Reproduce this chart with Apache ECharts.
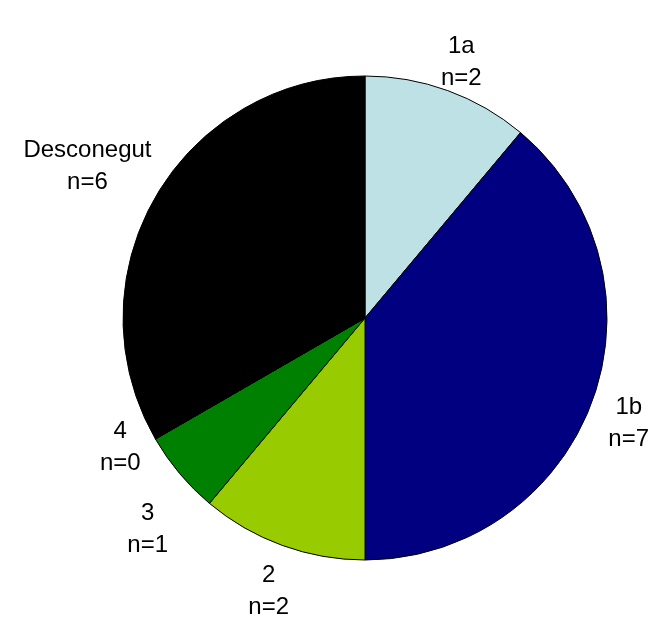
<!DOCTYPE html>
<html>
<head>
<meta charset="utf-8">
<script src="https://cdn.jsdelivr.net/npm/echarts@6/dist/echarts.min.js"></script>
<style>
  html, body { margin: 0; padding: 0; background: #fff; }
  #main { width: 650px; height: 619px; }
</style>
</head>
<body>
<div id="main"></div>
<script>
// categories, counts and slice colours
var categories = ['1a', '1b', '2', '3', '4', 'Desconegut'];
var counts = [2, 7, 2, 1, 0, 6];
var colors = ['#BDE1E4', '#000080', '#99CC00', '#008000', '#339966', '#000000'];

var cx = 365, cy = 318, R = 242;
var fontSize = 24, lineH = 32;
var fontFamily = 'Liberation Sans, Arial, sans-serif';
var total = counts.reduce(function (a, b) { return a + b; }, 0);

// measure label text so it can sit just outside the rim
var ctx = document.createElement('canvas').getContext('2d');
ctx.font = fontSize + 'px ' + fontFamily;

var labelPos = [];
var acc = 0;
counts.forEach(function (v, i) {
  var th = (acc + v / 2) / total * 2 * Math.PI;
  acc += v;
  var w = Math.max(ctx.measureText(categories[i]).width, ctx.measureText('n=' + v).width) / 2;
  var h = 22;
  var d = R + 12 + w * Math.abs(Math.sin(th)) + h * Math.abs(Math.cos(th));
  labelPos.push({ x: cx + d * Math.sin(th), y: cy - d * Math.cos(th) + 9, w: w });
});
// push apart neighbouring labels that collide
for (var i = 1; i < labelPos.length; i++) {
  var a = labelPos[i - 1], b = labelPos[i];
  var dy = Math.abs(a.y - b.y), need = 2 * lineH + 18;
  if (dy < need && Math.abs(a.x - b.x) < a.w + b.w) {
    var s = (need - dy) / 2;
    if (a.y < b.y) { a.y -= s; b.y += s; } else { a.y += s; b.y -= s; }
  }
}

var chart = echarts.init(document.getElementById('main'));

var data = categories.map(function (c, i) {
  return { name: c, value: counts[i], itemStyle: { color: colors[i] } };
});

option = {
  animation: false,
  series: [
    {
      type: 'pie',
      center: [cx, cy],
      radius: R,
      startAngle: 90,
      clockwise: true,
      avoidLabelOverlap: false,
      itemStyle: { borderColor: '#000', borderWidth: 1 },
      label: {
        show: true,
        position: 'outside',
        formatter: '{b}\nn={c}',
        fontFamily: fontFamily,
        fontSize: fontSize,
        lineHeight: lineH,
        color: '#000'
      },
      labelLine: { show: false },
      emphasis: { disabled: true },
      labelLayout: function (params) {
        var p = labelPos[params.dataIndex];
        return { x: p.x, y: p.y, align: 'center', verticalAlign: 'middle' };
      },
      data: data
    }
  ]
};
chart.setOption(option);
</script>
</body>
</html>
